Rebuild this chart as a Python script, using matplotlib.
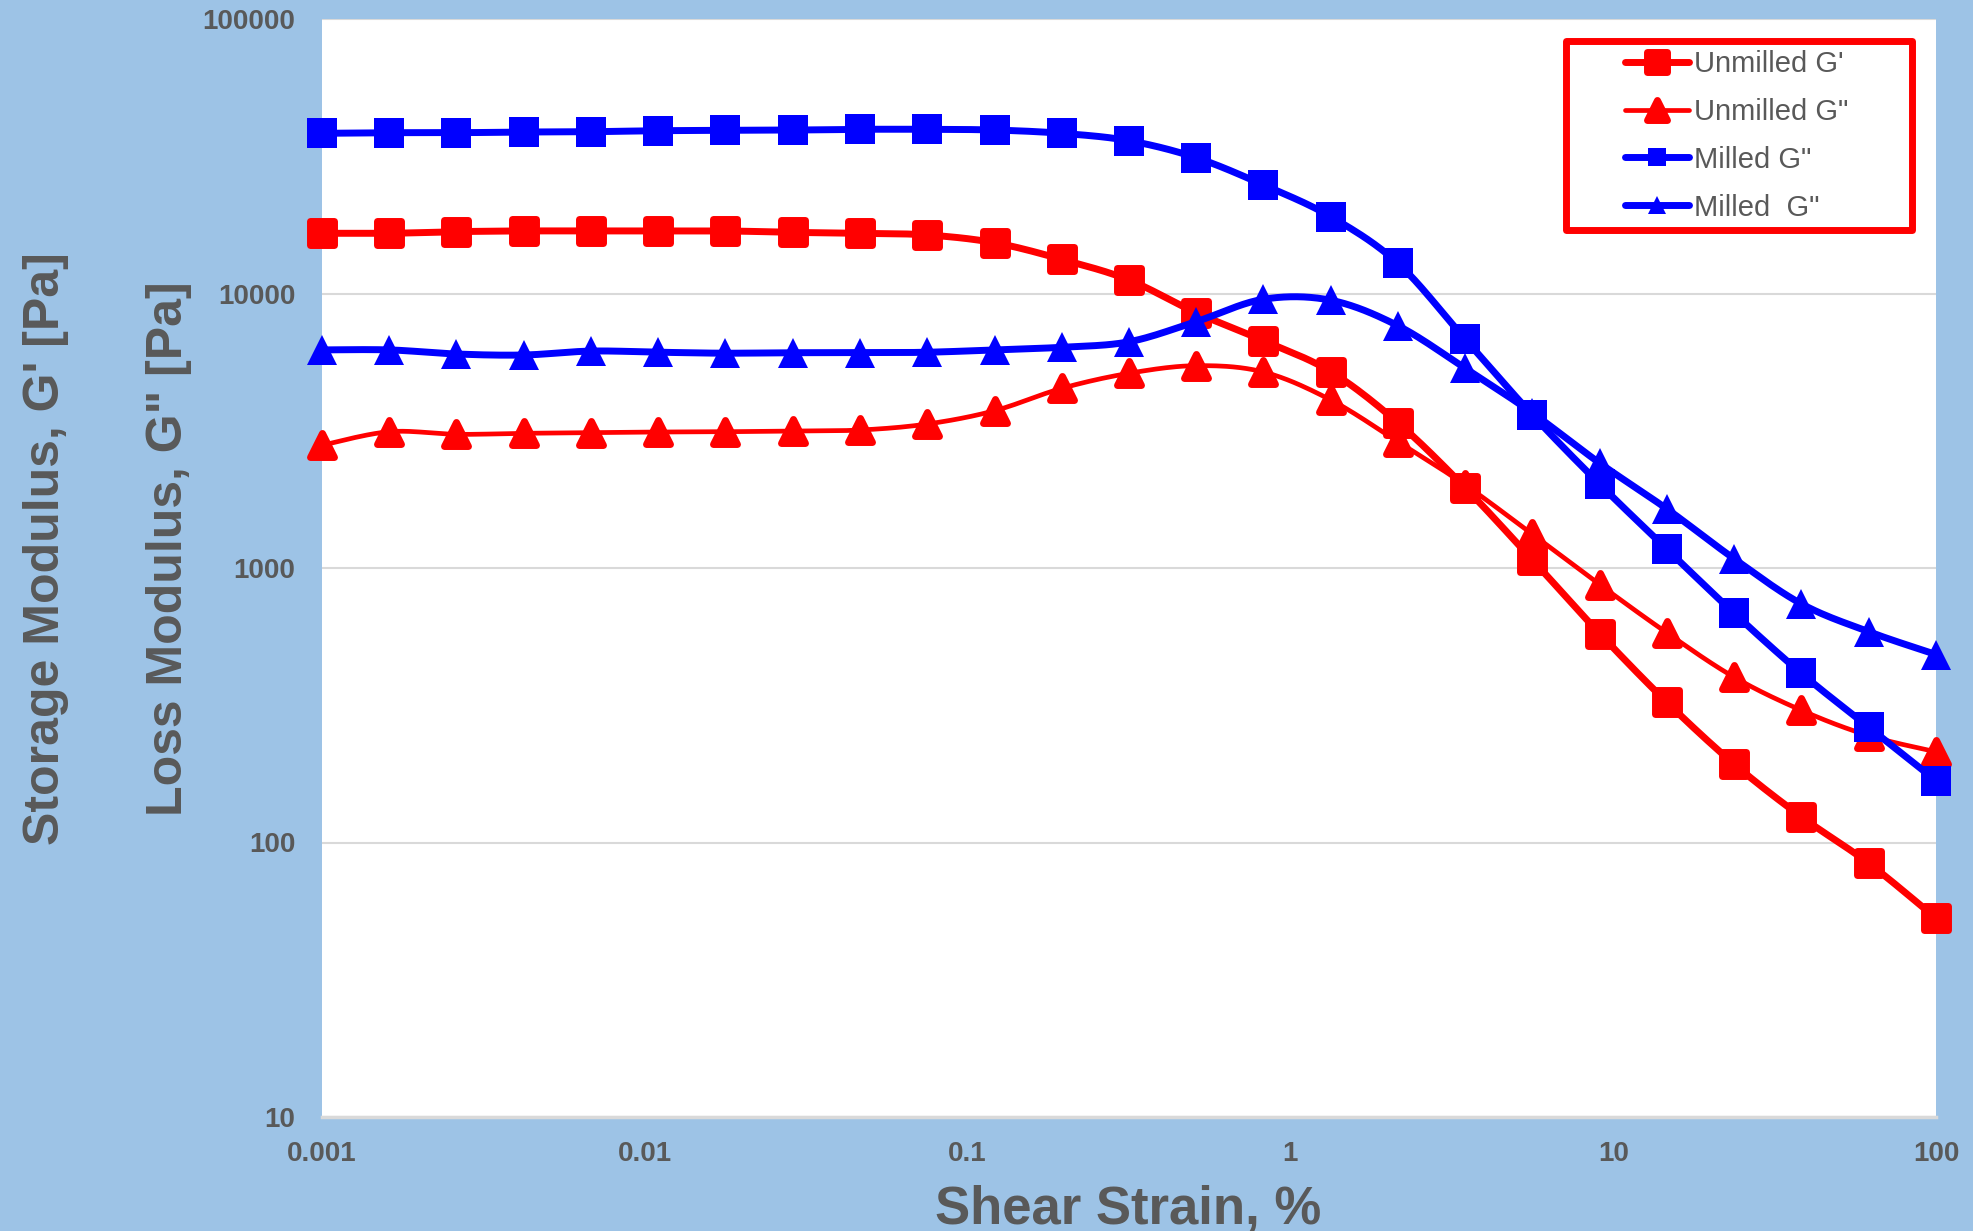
#!/usr/bin/env python3
"""Strain sweep: storage and loss modulus of unmilled vs milled samples."""
import numpy as np
import matplotlib
matplotlib.use('Agg')
import matplotlib.pyplot as plt
from matplotlib.lines import Line2D
from matplotlib.markers import MarkerStyle
from matplotlib.patches import Rectangle

plt.rcParams['font.family'] = ['Liberation Sans', 'DejaVu Sans']

# --- data (shear strain in %, moduli in Pa) ---
strain = [0.001, 0.001616, 0.00261, 0.004217, 0.006813, 0.01101, 0.01778,
          0.02873, 0.04642, 0.07499, 0.1212, 0.1957, 0.3162, 0.5109, 0.8254,
          1.334, 2.154, 3.481, 5.623, 9.085, 14.68, 23.71, 38.31, 61.9, 100]

unmilled_gp = [16570, 16570, 16800, 16900, 16900, 16900, 16900, 16700, 16570,
               16340, 15310, 13320, 11200, 8510, 6730, 5190, 3380, 1960, 1070,
               577, 324, 193, 124, 84, 53]
unmilled_gpp = [2800, 3137, 3069, 3095, 3111, 3129, 3137, 3156, 3182, 3346,
                3741, 4513, 5121, 5458, 5176, 4093, 2885, 2006, 1327, 870,
                580, 400, 303, 245, 214]
milled_gp = [38330, 38530, 38530, 38750, 38850, 39180, 39300, 39400, 39640,
             39640, 39400, 38330, 36030, 31240, 24860, 19050, 12880, 6810,
             3610, 2020, 1170, 684, 413, 263, 168]
milled_gpp = [6230, 6230, 6020, 5970, 6170, 6110, 6060, 6085, 6085, 6110, 6230,
              6370, 6670, 7900, 9530, 9450, 7630, 5340, 3670, 2410, 1640, 1080,
              740, 586, 484]

labels = ["Unmilled G'", 'Unmilled G"', 'Milled G"', 'Milled  G"']

BG = '#9DC3E6'
GREY = '#595959'
RED = '#FF0000'
BLUE = '#0000FF'


def smooth(x, y, n=20):
    """Bezier smoothing through the points, done in log-log space."""
    p = np.column_stack([np.log10(x), np.log10(y)])
    q = np.vstack([p[0], p, p[-1]])
    t = np.linspace(0, 1, n, endpoint=False)[:, None]
    segs = []
    for i in range(1, len(q) - 2):
        p0, p1, p2, p3 = q[i - 1], q[i], q[i + 1], q[i + 2]
        c1 = p1 + (p2 - p0) / 6
        c2 = p2 - (p3 - p1) / 6
        segs.append((1 - t) ** 3 * p1 + 3 * (1 - t) ** 2 * t * c1
                    + 3 * (1 - t) * t ** 2 * c2 + t ** 3 * p2)
    segs.append(p[-1:])
    xy = np.vstack(segs)
    return 10 ** xy[:, 0], 10 ** xy[:, 1]


sq_round = MarkerStyle('s', joinstyle='round')
tri_round = MarkerStyle('^', joinstyle='round')

series = [
    # data, color, line width, marker, ms, mew, legend ms
    (unmilled_gp, RED, 5.0, sq_round, 17, 5, 15),
    (unmilled_gpp, RED, 3.4, tri_round, 17, 5, 15),
    (milled_gp, BLUE, 5.0, 's', 22.3, 0, 13.5),
    (milled_gpp, BLUE, 5.0, '^', 22.3, 0, 12.5),
]

fig = plt.figure(figsize=(19.74, 12.31), dpi=100, facecolor=BG)
ax = fig.add_axes([322 / 1974, 1 - 1117 / 1231, 1614 / 1974, 1098 / 1231])
ax.set_facecolor('white')

handles = []
for (vals, c, lw, mk, ms, mew, lms), lbl in zip(series, labels):
    sx, sy = smooth(strain, vals)
    ax.plot(sx, sy, color=c, lw=lw, solid_capstyle='round',
            solid_joinstyle='round', zorder=3, clip_on=False)
    ax.plot(strain, vals, ls='none', marker=mk, ms=ms, mew=mew,
            mfc=c, mec=c, zorder=3, clip_on=False)
    handles.append(Line2D([], [], color=c, lw=lw, solid_capstyle='round',
                          marker=mk, ms=lms, mew=mew, mfc=c, mec=c))

ax.set_xscale('log')
ax.set_yscale('log')
ax.set_xlim(0.001, 100)
ax.set_ylim(10, 100000)

xt = [0.001, 0.01, 0.1, 1, 10, 100]
yt = [10, 100, 1000, 10000, 100000]
ax.set_xticks(xt, ['0.001', '0.01', '0.1', '1', '10', '100'])
ax.set_yticks(yt, ['10', '100', '1000', '10000', '100000'])
ax.minorticks_off()
ax.tick_params(axis='both', length=0, labelsize=20, labelcolor=GREY)
ax.tick_params(axis='x', pad=17)
ax.tick_params(axis='y', pad=19)
for t in ax.get_xticklabels() + ax.get_yticklabels():
    t.set_fontweight('bold')

ax.grid(axis='y', color='#D9D9D9', lw=1.5, zorder=0)
ax.set_axisbelow(True)
for s in ax.spines.values():
    s.set_visible(False)
ax.axhline(10, color='#D9D9D9', lw=2.5, zorder=1, clip_on=False)

# axis titles
fig.text(1128 / 1974, 1 - 1223 / 1231, 'Shear Strain, %', ha='center',
         va='baseline', fontsize=38, fontweight='bold', color=GREY)
fig.text(46 / 1974, 1 - 549 / 1231, "Storage Modulus, G' [Pa]", rotation=90,
         ha='center', va='center', fontsize=36, fontweight='bold', color=GREY)
fig.text(169 / 1974, 1 - 549 / 1231, 'Loss Modulus, G" [Pa]', rotation=90,
         ha='center', va='center', fontsize=36, fontweight='bold', color=GREY)

# legend with its red box
fig.patches.append(Rectangle((1565.5 / 1974, 1 - 229.5 / 1231),
                             346 / 1974, 189 / 1231,
                             transform=fig.transFigure, facecolor='white',
                             edgecolor=RED, lw=5, joinstyle='round', zorder=5))
leg = fig.legend(handles, labels, loc='upper left',
                 bbox_to_anchor=(1625 / 1974, 1 - 50 / 1231),
                 bbox_transform=fig.transFigure, frameon=False, fontsize=21,
                 borderpad=0, borderaxespad=0, handlelength=2.2,
                 handletextpad=0.17, labelspacing=0.68)
leg.set_zorder(6)
for t in leg.get_texts():
    t.set_color(GREY)

fig.savefig('out.png', dpi=100, facecolor=BG)
